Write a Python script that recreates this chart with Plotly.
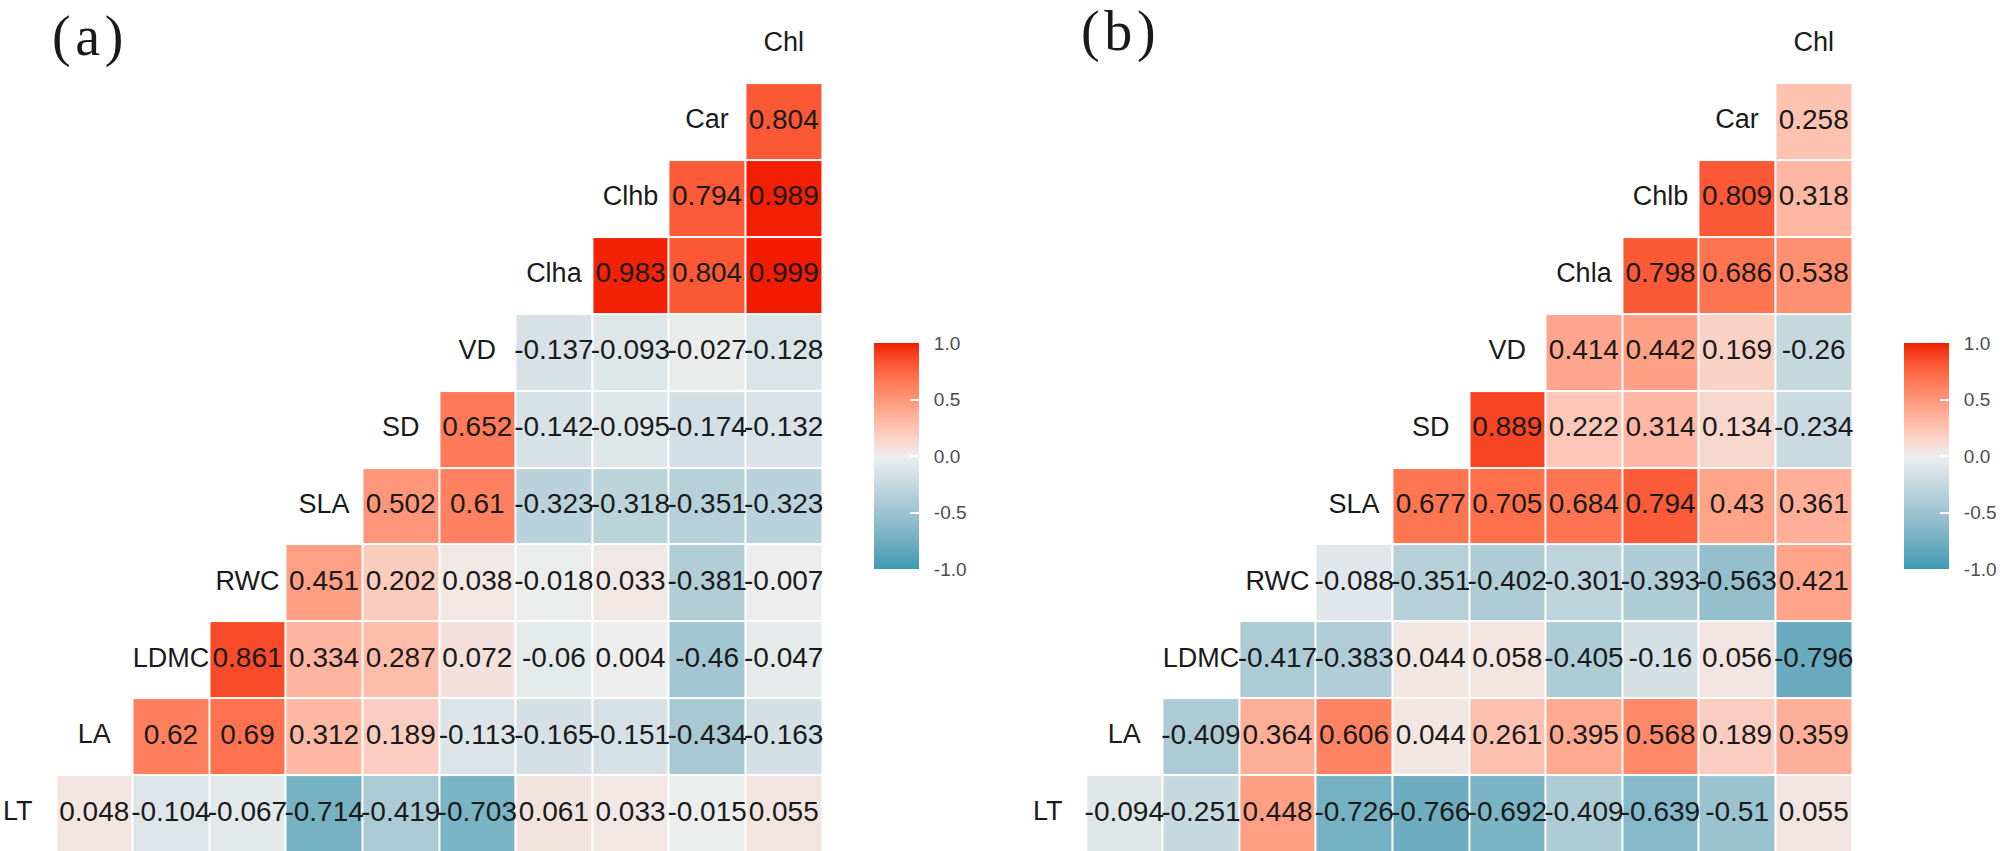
import numpy as np
import plotly.graph_objects as go

# ---------------- data ----------------
vars_a = ["LT", "LA", "LDMC", "RWC", "SLA", "SD", "VD", "Clha", "Clhb", "Car", "Chl"]
vars_b = ["LT", "LA", "LDMC", "RWC", "SLA", "SD", "VD", "Chla", "Chlb", "Car", "Chl"]

# row r holds correlations of vars[r] with vars[r+1 .. 10]
rows_a = [
    [0.048, -0.104, -0.067, -0.714, -0.419, -0.703, 0.061, 0.033, -0.015, 0.055],
    [0.62, 0.69, 0.312, 0.189, -0.113, -0.165, -0.151, -0.434, -0.163],
    [0.861, 0.334, 0.287, 0.072, -0.06, 0.004, -0.46, -0.047],
    [0.451, 0.202, 0.038, -0.018, 0.033, -0.381, -0.007],
    [0.502, 0.61, -0.323, -0.318, -0.351, -0.323],
    [0.652, -0.142, -0.095, -0.174, -0.132],
    [-0.137, -0.093, -0.027, -0.128],
    [0.983, 0.804, 0.999],
    [0.794, 0.989],
    [0.804],
]
rows_b = [
    [-0.094, -0.251, 0.448, -0.726, -0.766, -0.692, -0.409, -0.639, -0.51, 0.055],
    [-0.409, 0.364, 0.606, 0.044, 0.261, 0.395, 0.568, 0.189, 0.359],
    [-0.417, -0.383, 0.044, 0.058, -0.405, -0.16, 0.056, -0.796],
    [-0.088, -0.351, -0.402, -0.301, -0.393, -0.563, 0.421],
    [0.677, 0.705, 0.684, 0.794, 0.43, 0.361],
    [0.889, 0.222, 0.314, 0.134, -0.234],
    [0.414, 0.442, 0.169, -0.26],
    [0.798, 0.686, 0.538],
    [0.809, 0.318],
    [0.258],
]
cbar_ticks = [-1.0, -0.5, 0.0, 0.5, 1.0]
cbar_labels = ["-1.0", "-0.5", "0.0", "0.5", "1.0"]

# ---------------- colours (ggplot gradient2 in Lab space) ----------------
LOW, MID, HIGH = "#3B9AB2", "#EEEEEE", "#F21A00"
WHITE = np.array([0.95047, 1.0, 1.08883])
M = np.array([[0.4124564, 0.3575761, 0.1804375],
              [0.2126729, 0.7151522, 0.0721750],
              [0.0193339, 0.1191920, 0.9503041]])


def hex2lab(h):
    rgb = np.array([int(h[i:i + 2], 16) for i in (1, 3, 5)]) / 255.0
    lin = np.where(rgb <= 0.04045, rgb / 12.92, ((rgb + 0.055) / 1.055) ** 2.4)
    xyz = M @ lin / WHITE
    d = 6 / 29
    f = np.where(xyz > d ** 3, np.cbrt(xyz), xyz / (3 * d * d) + 4 / 29)
    return np.array([116 * f[1] - 16, 500 * (f[0] - f[1]), 200 * (f[1] - f[2])])


def lab2css(lab):
    L, a, b = lab
    fy = (L + 16) / 116
    fx = fy + a / 500
    fz = fy - b / 200
    d = 6 / 29
    f = np.array([fx, fy, fz])
    xyz = np.where(f > d, f ** 3, 3 * d * d * (f - 4 / 29)) * WHITE
    lin = np.linalg.inv(M) @ xyz
    lin = np.clip(lin, 0, 1)
    rgb = np.where(lin <= 0.0031308, 12.92 * lin, 1.055 * lin ** (1 / 2.4) - 0.055)
    rgb = np.clip(np.round(rgb * 255), 0, 255).astype(int)
    return "rgb(%d,%d,%d)" % tuple(rgb)


lab_lo, lab_mid, lab_hi = hex2lab(LOW), hex2lab(MID), hex2lab(HIGH)
colorscale = []
for t in np.linspace(0, 1, 41):
    v = -1 + 2 * t
    if v <= 0:
        s = v + 1
        lab = lab_lo * (1 - s) + lab_mid * s
    else:
        lab = lab_mid * (1 - v) + lab_hi * v
    colorscale.append([float(t), lab2css(lab)])

# ---------------- geometry (pixels) ----------------
W, H = 2008, 851
PX = 76.6          # cell pitch x
PY = 76.9          # cell pitch y
CHL_CX = 783.7     # centre of Chl column, panel a
SHIFT = 1030       # offset of panel b
ROW0_CY = 813.6    # centre of the LT row (from top)

yr0 = -(H - ROW0_CY) / PY
yrange = [yr0, yr0 + H / PY]

xr_a0 = 10 - CHL_CX / PX
xrange_a = [xr_a0, xr_a0 + (W / 2) / PX]
xr_b0 = 10 - (CHL_CX + SHIFT - W / 2) / PX
xrange_b = [xr_b0, xr_b0 + (W / 2) / PX]

NUM_FONT = dict(family="Liberation Sans, Arial, sans-serif", size=28, color="#1a1a1a")
LAB_FONT = dict(family="Liberation Sans, Arial, sans-serif", size=27, color="#1a1a1a")


def fmt(v):
    return f"{v:g}"


fig = go.Figure()

CB_TOP, CB_BOT = 343, 569
CB_LEFT_A = 874
CB_THICK = 45


def add_panel(rows, names, xa, ya, cb_left):
    n = len(names)
    z = [[None] * n for _ in range(n - 1)]
    tx, ty, tt = [], [], []
    for r, vals in enumerate(rows):
        for k, v in enumerate(vals):
            c = r + 1 + k
            z[r][c] = v
            tx.append(c)
            ty.append(r)
            tt.append(fmt(v))
    fig.add_trace(go.Heatmap(
        z=z, x=list(range(n)), y=list(range(n - 1)),
        zmin=-1, zmax=1, zmid=0, colorscale=colorscale,
        xgap=2, ygap=2, hoverongaps=False,
        xaxis=xa, yaxis=ya, showscale=True,
        colorbar=dict(
            x=cb_left / W, xanchor="left",
            y=1 - (CB_TOP + CB_BOT) / 2 / H, yanchor="middle",
            lenmode="pixels", len=CB_BOT - CB_TOP,
            thicknessmode="pixels", thickness=CB_THICK,
            xpad=0, ypad=0, outlinewidth=0,
            tickvals=cbar_ticks,
            ticktext=["\u00a0\u00a0" + s for s in cbar_labels],
            ticks="inside", ticklen=9, tickcolor="white", tickwidth=1.5,
            tickfont=dict(family="Liberation Sans, Arial, sans-serif", size=19, color="#4d4d4d"),
        ),
    ))
    fig.add_trace(go.Scatter(
        x=tx, y=ty, text=tt, mode="text", textfont=NUM_FONT,
        xaxis=xa, yaxis=ya, hoverinfo="skip", showlegend=False, cliponaxis=False,
    ))
    fig.add_trace(go.Scatter(
        x=list(range(n)), y=list(range(n)), text=names, mode="text", textfont=LAB_FONT,
        xaxis=xa, yaxis=ya, hoverinfo="skip", showlegend=False, cliponaxis=False,
    ))


add_panel(rows_a, vars_a, "x", "y", CB_LEFT_A)
add_panel(rows_b, vars_b, "x2", "y2", CB_LEFT_A + SHIFT)

ax = dict(visible=False, showgrid=False, zeroline=False, fixedrange=True)
TITLE_FONT = dict(family="Liberation Serif, Times New Roman, serif", size=56, color="#1a1a1a")
fig.update_layout(
    width=W, height=H,
    margin=dict(l=0, r=0, t=0, b=0, pad=0),
    paper_bgcolor="white", plot_bgcolor="white",
    showlegend=False,
    xaxis=dict(ax, domain=[0, 0.5], range=xrange_a),
    yaxis=dict(ax, domain=[0, 1], range=yrange),
    xaxis2=dict(ax, domain=[0.5, 1], range=xrange_b),
    yaxis2=dict(ax, domain=[0, 1], range=yrange),
    annotations=[
        dict(text="(\u200aa\u200a)", x=88 / W, y=1 - 37 / H, xref="paper", yref="paper",
             xanchor="center", yanchor="middle", showarrow=False, font=TITLE_FONT),
        dict(text="(\u200ab\u200a)", x=(88 + SHIFT) / W, y=1 - 32 / H, xref="paper", yref="paper",
             xanchor="center", yanchor="middle", showarrow=False, font=TITLE_FONT),
    ],
)

fig.write_html("out.html", config={"displayModeBar": False},
               post_script="document.body.style.margin='0';")
